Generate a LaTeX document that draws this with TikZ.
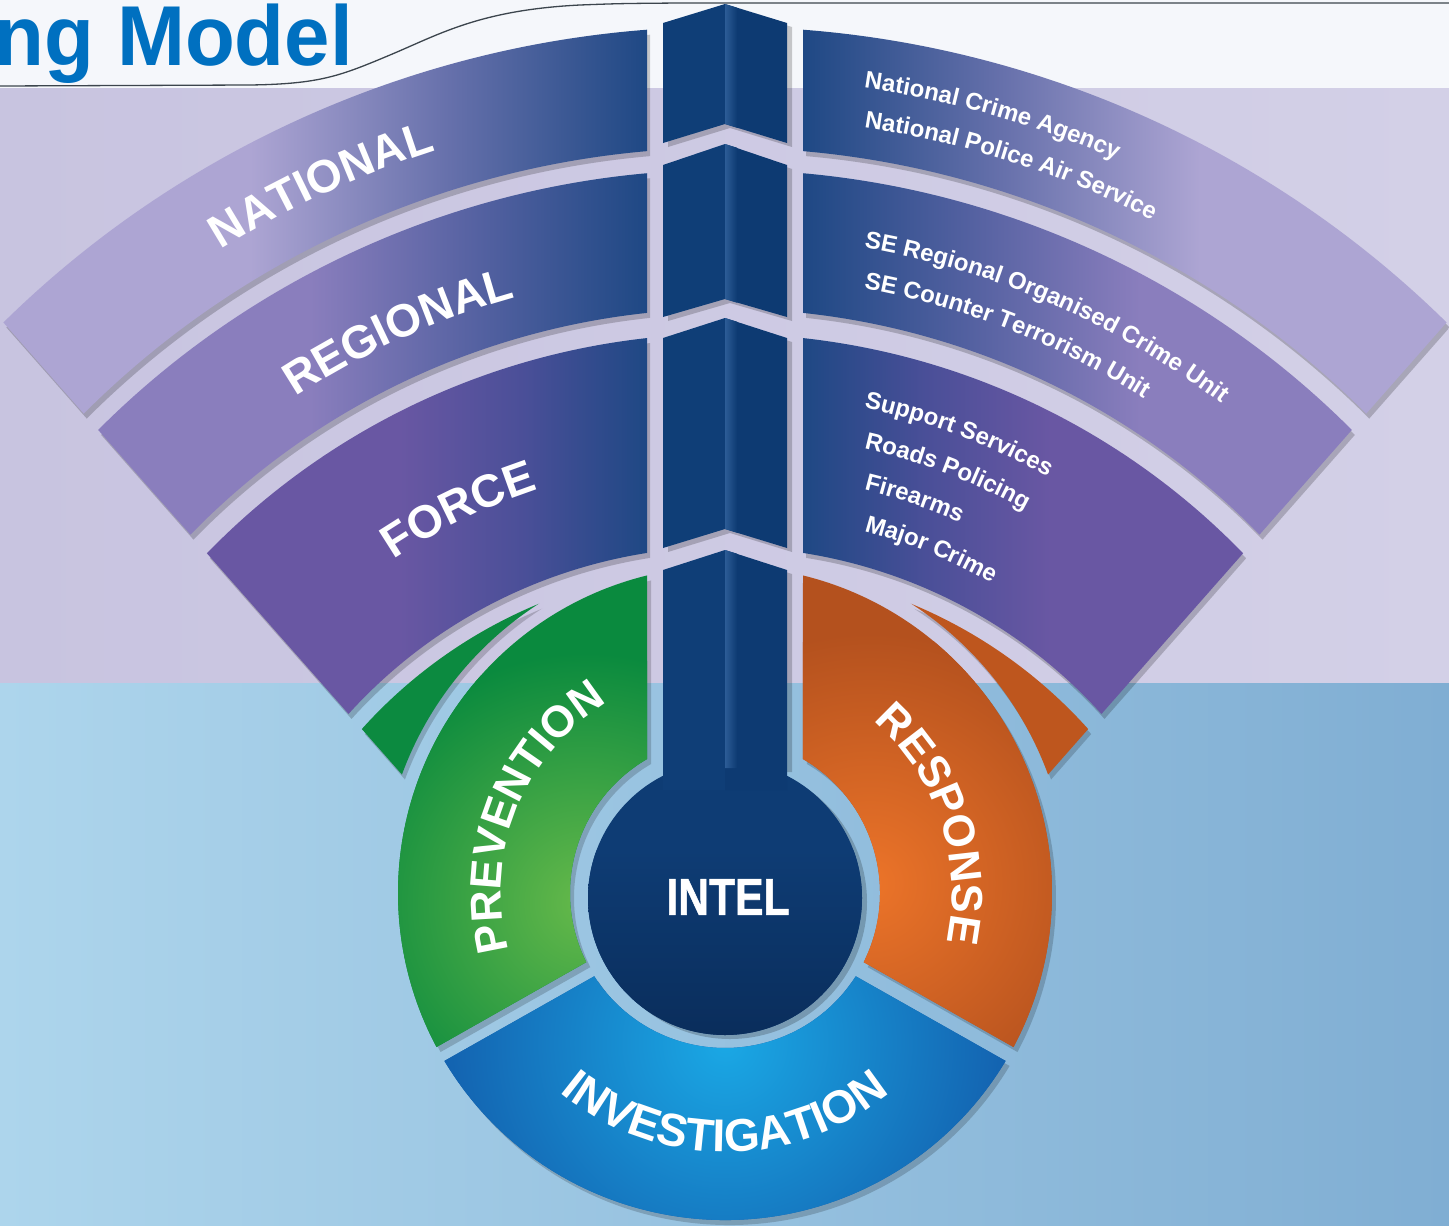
\documentclass[tikz,border=0pt]{standalone}
\usepackage{fontspec}
\setmainfont{Liberation Sans}
\newfontfamily\heavyfont{Liberation Sans}[UprightFeatures={FakeBold=1.2},BoldFeatures={FakeBold=1.2}]
\usetikzlibrary{decorations.text}

\definecolor{topwhite}{HTML}{F5F7FB}
\definecolor{lavL}{HTML}{C8C4E0}
\definecolor{lavR}{HTML}{D3D0E7}
\definecolor{bluL}{HTML}{ADD5EC}
\definecolor{bluR}{HTML}{80AED3}
\definecolor{titleblue}{HTML}{0070C0}
\definecolor{curveline}{HTML}{3C454D}
\definecolor{natA}{HTML}{ADA5D3}
\definecolor{natM}{HTML}{6670AB}
\definecolor{regA}{HTML}{8A7EBD}
\definecolor{regM}{HTML}{5461A1}
\definecolor{forA}{HTML}{6957A3}
\definecolor{forM}{HTML}{4A4F98}
\definecolor{bandEnd}{HTML}{1E4884}
\definecolor{stemL}{HTML}{0F3E77}
\definecolor{stemR}{HTML}{0D3A72}
\definecolor{stemHi}{HTML}{2C5C96}
\definecolor{intelT}{HTML}{0E3C74}
\definecolor{intelB}{HTML}{0A2D5B}
\definecolor{greenD}{HTML}{0A8A3E}
\definecolor{greenL}{HTML}{66B94A}
\definecolor{orangeD}{HTML}{B4511E}
\definecolor{orangeL}{HTML}{EC7429}
\definecolor{invL}{HTML}{1AA8E5}
\definecolor{invD}{HTML}{1360AE}
\definecolor{cresG}{HTML}{0C8A40}
\definecolor{cresO}{HTML}{BE561E}

\newcommand{\bandfont}{\fontsize{46}{46}\selectfont\bfseries}
\newcommand{\ringfont}{\fontsize{44}{44}\selectfont\bfseries}
\newcommand{\smallfont}{\fontsize{24}{24}\selectfont\bfseries}

% #1 xscale (1 left, -1 right), #2 outer r, #3 inner r, #4 solid colour, #5 shading keys, #6 gradient start (rel x, mirrored side)
\newcommand{\bandhalf}[6]{%
 \begin{scope}[shift={(728,-1060)},xscale=#1]
  \clip (-78,2.5) -- (-1124,1189) -- (-78,1189) -- cycle;
  \fill[black,opacity=.2] (160:#2) arc[start angle=160,end angle=20,radius=#2] -- (20:#3) arc[start angle=20,end angle=160,radius=#3] -- cycle;
 \end{scope}
 \begin{scope}[shift={(725,-1055)}]
  \begin{scope}[xscale=#1]
   \clip (-78,2.5) -- (-1124,1189) -- (-78,1189) -- cycle;
   \clip (160:#2) arc[start angle=160,end angle=20,radius=#2] -- (20:#3) arc[start angle=20,end angle=160,radius=#3] -- cycle;
   \fill[#4] (-1200,0) rectangle (#6,1100);
  \end{scope}
  \begin{scope}
   \clip[xscale=#1] (-78,2.5) -- (-1124,1189) -- (-78,1189) -- cycle;
   \clip[xscale=#1] (160:#2) arc[start angle=160,end angle=20,radius=#2] -- (20:#3) arc[start angle=20,end angle=160,radius=#3] -- cycle;
   \shade[#5] ({#1*(#6)},0) rectangle ({#1*(-77)},1100);
  \end{scope}
 \end{scope}}

% #1 xscale, #2 colour
\newcommand{\crescent}[2]{%
 \begin{scope}[shift={(728,-1060)},xscale=#1]
  \clip (-78,2.5) -- (-1124,1189) -- (-78,1189) -- cycle;
  \clip (0,0) circle[radius=488];
  \fill[black,opacity=.18,even odd rule] (-800,-300) rectangle (800,1200) (0,162) circle[radius=344];
 \end{scope}
 \begin{scope}[shift={(725,-1055)},xscale=#1]
  \clip (-78,2.5) -- (-1124,1189) -- (-78,1189) -- cycle;
  \clip (0,0) circle[radius=488];
  \fill[#2,even odd rule] (-800,-300) rectangle (800,1200) (0,162) circle[radius=344];
 \end{scope}}

% stem segment: #1 top side y, #2 top ridge y, #3 bottom side y, #4 bottom ridge y
\newcommand{\stemseg}[4]{%
 \fill[black,opacity=.2,shift={(5,-4)}] (663,-#1) -- (725,-#2) -- (787,-#1) -- (787,-#3) -- (725,-#4) -- (663,-#3) -- cycle;
 \fill[stemL] (663,-#1) -- (725,-#2) -- (725,-#4) -- (663,-#3) -- cycle;
 \fill[stemR] (725,-#2) -- (787,-#1) -- (787,-#3) -- (725,-#4) -- cycle;
 \shade[left color=stemHi, right color=stemR] (725,-#2) -- (737,-#2-3.7) -- (737,-#4-3.7) -- (725,-#4) -- cycle;}

\begin{document}
\begin{tikzpicture}[x=1pt,y=1pt]
\useasboundingbox (0,-1226) rectangle (1449,0);

% ---------- background ----------
\fill[topwhite] (0,0) rectangle (1449,-88);
\shade[left color=lavL, right color=lavR] (0,-88) rectangle (1449,-683);
\shade[left color=bluL, right color=bluR] (0,-683) rectangle (1449,-1226);

% title tab line and title
\draw[curveline, line width=1.3] (0,-86) -- (250,-85)
  .. controls (320,-84) and (340,-76) .. (390,-55)
  .. controls (440,-34) and (480,-10) .. (580,-5)
  .. controls (620,-3.5) .. (680,-3) -- (1449,-3);
\node[anchor=base east, font=\fontsize{85}{85}\selectfont\bfseries, text=titleblue, xscale=.96, inner sep=0] (title) at (353,-65) {ng Model};

% ---------- fan bands ----------
\bandhalf{1}{1028}{907}{natA}{left color=natA, right color=bandEnd, middle color=natM}{-475}
\bandhalf{1}{885}{746}{regA}{left color=regA, right color=bandEnd, middle color=regM}{-415}
\bandhalf{1}{721}{508}{forA}{left color=forA, right color=bandEnd, middle color=forM}{-325}
\bandhalf{-1}{1028}{907}{natA}{left color=bandEnd, right color=natA, middle color=natM}{-475}
\bandhalf{-1}{885}{746}{regA}{left color=bandEnd, right color=regA, middle color=regM}{-415}
\bandhalf{-1}{721}{508}{forA}{left color=bandEnd, right color=forA, middle color=forM}{-325}

% crescents
\crescent{1}{cresG}
\crescent{-1}{cresO}

% ---------- stem ----------
\stemseg{23}{4}{143}{124}
\stemseg{165}{144}{317}{299}
\stemseg{338}{318}{548}{529}

% ---------- ring segments ----------
\begin{scope}[shift={(725,-893)}]
  \fill[black,opacity=.18,shift={(4,-5)}] (103.8:327) arc[start angle=103.8,end angle=208.1,radius=327] -- (206.5:155) arc[start angle=206.5,end angle=120.2,radius=155] -- cycle;
  \fill[black,opacity=.18,shift={(4,-5)}] (76.2:327) arc[start angle=76.2,end angle=-28.1,radius=327] -- (-26.5:155) arc[start angle=-26.5,end angle=59.8,radius=155] -- cycle;
  \fill[black,opacity=.18,shift={(4,-5)}] (210.9:327) arc[start angle=210.9,end angle=329.1,radius=327] -- (327.5:155) arc[start angle=327.5,end angle=212.5,radius=155] -- cycle;
  \begin{scope}
    \clip (103.8:327) arc[start angle=103.8,end angle=208.1,radius=327] -- (206.5:155) arc[start angle=206.5,end angle=120.2,radius=155] -- cycle;
    \fill[greenD] (-400,-400) rectangle (0,400);
    \shade[inner color=greenL, outer color=greenD] (-140,-10) circle[radius=250];
  \end{scope}
  \begin{scope}
    \clip (76.2:327) arc[start angle=76.2,end angle=-28.1,radius=327] -- (-26.5:155) arc[start angle=-26.5,end angle=59.8,radius=155] -- cycle;
    \fill[orangeD] (0,-400) rectangle (400,400);
    \shade[inner color=orangeL, outer color=orangeD] (145,10) circle[radius=250];
  \end{scope}
  \begin{scope}
    \clip (210.9:327) arc[start angle=210.9,end angle=329.1,radius=327] -- (327.5:155) arc[start angle=327.5,end angle=212.5,radius=155] -- cycle;
    \fill[invD] (-400,-400) rectangle (400,0);
    \shade[inner color=invL, outer color=invD] (0,-150) circle[radius=290];
  \end{scope}
\end{scope}

% ---------- stem bottom and INTEL circle ----------
\fill[black,opacity=.2] (730,-902) circle[radius=137];
\fill[black,opacity=.2] (668,-574) -- (730,-554) -- (792,-574) -- (792,-772) -- (668,-772) -- cycle;
\fill[intelT] (725,-898) circle[radius=137];
\begin{scope}
  \clip (725,-898) circle[radius=137];
  \shade[top color=intelT, bottom color=intelB] (580,-850) rectangle (870,-1040);
\end{scope}
\fill[stemL] (663,-570) -- (725,-550) -- (725,-790) -- (663,-790) -- cycle;
\fill[stemR] (725,-550) -- (787,-570) -- (787,-790) -- (725,-790) -- cycle;
\shade[left color=stemHi, right color=stemR] (725,-550) -- (737,-553.7) -- (737,-768) -- (725,-768) -- cycle;
\node[font=\fontsize{52}{52}\selectfont\heavyfont\bfseries, text=white, xscale=.82, inner sep=0] (intel) at (728,-897) {INTEL};

% ---------- band labels ----------
\begin{scope}[shift={(725,-1055)}]
  \path[decorate, decoration={text along path, text={|\bandfont|NATIONAL}, text align=center, text color=white}]
    (139.9:950) arc[start angle=139.9, end angle=89.9, radius=950];
  \path[decorate, decoration={text along path, text={|\bandfont|REGIONAL}, text align=center, text color=white}]
    (139.3:786) arc[start angle=139.3, end angle=89.3, radius=786];
  \path[decorate, decoration={text along path, text={|\bandfont|FORCE}, text align=center, text color=white}]
    (141:596) arc[start angle=141, end angle=91, radius=596];
  % right side lists
  \foreach \r/\t in {977/National Crime Agency, 938/National Police Air Service,
                     819/SE Regional Organised Crime Unit, 779/SE Counter Terrorism Unit,
                     662/Support Services, 622/Roads Policing, 582/Firearms, 542/Major Crime}{
    \pgfmathsetmacro{\a}{acos(139/\r)}
    \path[decorate, decoration={text along path, text={|\smallfont|\t}, text color=white}]
      (\a:\r) arc[start angle=\a, end angle=\a-60, radius=\r];
  }
\end{scope}

% ---------- ring labels ----------
\begin{scope}[shift={(725,-893)}]
  \path[decorate, decoration={text along path, text={|\ringfont|PREVENTION}, text align=center, text color=white}]
    (203.3:224) arc[start angle=203.3, end angle=113.3, radius=224];
  \path[decorate, decoration={text along path, text={|\ringfont|RESPONSE}, text align=center, text color=white}]
    (63.4:227) arc[start angle=63.4, end angle=-26.6, radius=227];
  \path[decorate, decoration={text along path, text={|\bandfont|INVESTIGATION}, text align=center, text color=white}]
    (215:259) arc[start angle=215, end angle=325, radius=259];
\end{scope}
\end{tikzpicture}
\end{document}
